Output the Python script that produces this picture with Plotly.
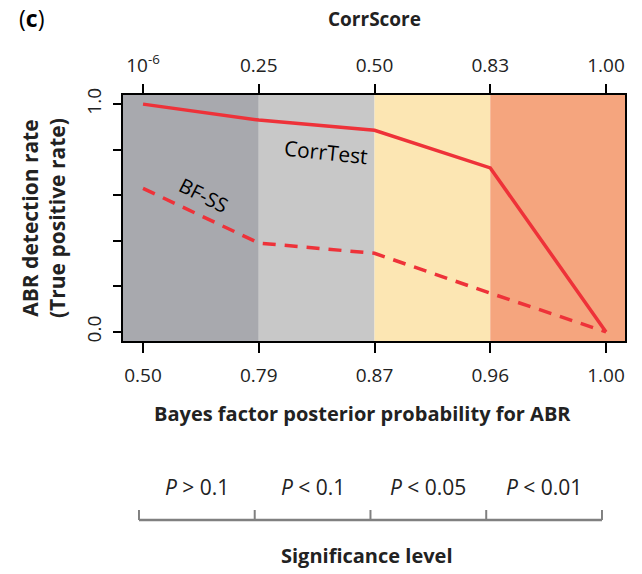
import plotly.graph_objects as go

# ---- data ----
positions = [0, 1, 2, 3, 4]
bayes_labels = ["0.50", "0.79", "0.87", "0.96", "1.00"]
corrscore_labels = ["10<sup>-6</sup>", "0.25", "0.50", "0.83", "1.00"]
corrtest = [1.0, 0.93, 0.885, 0.72, 0.0]
bfss = [0.63, 0.39, 0.345, 0.17, 0.0]
sig_labels = ["<i>P</i> > 0.1", "<i>P</i> < 0.1", "<i>P</i> < 0.05", "<i>P</i> < 0.01"]
band_colors = ["#a8a9ae", "#c8c8c8", "#fce6b3", "#f5a57e"]

OFF = 8  # page body margin
W, H = 642 - OFF, 574 - OFF
L, T = 123 - OFF, 95 - OFF
R = W - (625 - OFF)
B = H - (341 - OFF)
plot_h = H - T - B
plot_w = W - L - R
XMIN, XMAX = -0.173, 4.164
FONT = "Open Sans, Liberation Sans, sans-serif"
RED = "#ee3239"


def py(y_px):
    """reference pixel y (from top of window) -> paper y"""
    return (H - B - (y_px - OFF)) / plot_h


def px(x_px):
    return (x_px - OFF - L) / plot_w


fig = go.Figure()
fig.add_trace(go.Scatter(x=positions, y=corrtest, mode="lines",
                         line=dict(color=RED, width=3.5), name="CorrTest"))
fig.add_trace(go.Scatter(x=positions, y=bfss, mode="lines",
                         line=dict(color=RED, width=3.5, dash="13px,9px"), name="BF-SS"))
# invisible trace to activate top axis
fig.add_trace(go.Scatter(x=positions, y=corrtest, xaxis="x2", mode="lines",
                         line=dict(width=0), opacity=0, hoverinfo="skip", showlegend=False))

shapes = []
edges = [XMIN, 1, 2, 3, XMAX]
for i, c in enumerate(band_colors):
    shapes.append(dict(type="rect", xref="x", yref="paper", x0=edges[i], x1=edges[i + 1],
                       y0=0, y1=1, fillcolor=c, line=dict(width=0), layer="below"))

# significance bracket
gray = "#808080"
yb = py(520)
yt = py(510)
bx = [p - 0.035 for p in positions]
shapes.append(dict(type="line", xref="x", yref="paper", x0=bx[0], x1=bx[-1], y0=yb, y1=yb,
                   line=dict(color=gray, width=2.5)))
for p in bx:
    shapes.append(dict(type="line", xref="x", yref="paper", x0=p, x1=p, y0=yb, y1=yt,
                       line=dict(color=gray, width=2)))


def ann(text, x, y, size, xref="paper", angle=0, color="#222", xanchor="center"):
    return dict(text=text, x=x, y=y, xref=xref, yref="paper", xanchor=xanchor, yanchor="middle",
                showarrow=False, textangle=angle, font=dict(size=size, family=FONT, color=color))


annotations = [
    ann("(<b>c</b>)", px(31), py(18), 23, color="black"),
    ann("<b>CorrScore</b>", px(374), py(19), 19),
    ann("<b>Bayes factor posterior probability for ABR</b>", px(362), py(413), 20),
    ann("<b>Significance level</b>", px(367), py(555), 20),
    ann("<b>ABR detection rate<br>(True positive rate)</b>", px(43), py(218), 21, angle=-90),
    ann("CorrTest", 1.58, py(152), 21, xref="x", angle=6, color="black"),
    ann("BF-SS", 0.53, py(195), 20, xref="x", angle=27, color="black"),
]
for i, s in enumerate(sig_labels):
    annotations.append(ann(s, (bx[i] + bx[i + 1]) / 2, py(487), 21, xref="x"))

fig.update_layout(
    width=W, height=H,
    margin=dict(l=L, r=R, t=T, b=B, pad=0),
    paper_bgcolor="white", plot_bgcolor="white",
    showlegend=False,
    font=dict(family=FONT, size=19, color="#222"),
    shapes=shapes, annotations=annotations,
    xaxis=dict(range=[XMIN, XMAX], tickvals=positions, ticktext=bayes_labels,
               ticks="outside", ticklen=10, tickwidth=2, tickcolor="black",
               showline=True, linecolor="black", linewidth=2, mirror=True, automargin=False,
               showgrid=False, zeroline=False, tickfont=dict(size=19), ticklabelstandoff=6),
    xaxis2=dict(range=[XMIN, XMAX], tickvals=positions, ticktext=corrscore_labels,
                overlaying="x", side="top", ticks="outside", ticklen=10, tickwidth=2,
                tickcolor="black", showline=False, showgrid=False, zeroline=False, automargin=False,
                tickfont=dict(size=19), ticklabelstandoff=4),
    yaxis=dict(range=[-0.04, 1.04], tickvals=[0, 0.2, 0.4, 0.6, 0.8, 1.0],
               ticktext=["0.0", "", "", "", "", "1.0"], tickangle=-90,
               ticks="outside", ticklen=8, tickwidth=2, tickcolor="black",
               showline=True, linecolor="black", linewidth=2, mirror=True, automargin=False,
               showgrid=False, zeroline=False, tickfont=dict(size=19), ticklabelstandoff=4),
)

fig.write_html("out.html")
